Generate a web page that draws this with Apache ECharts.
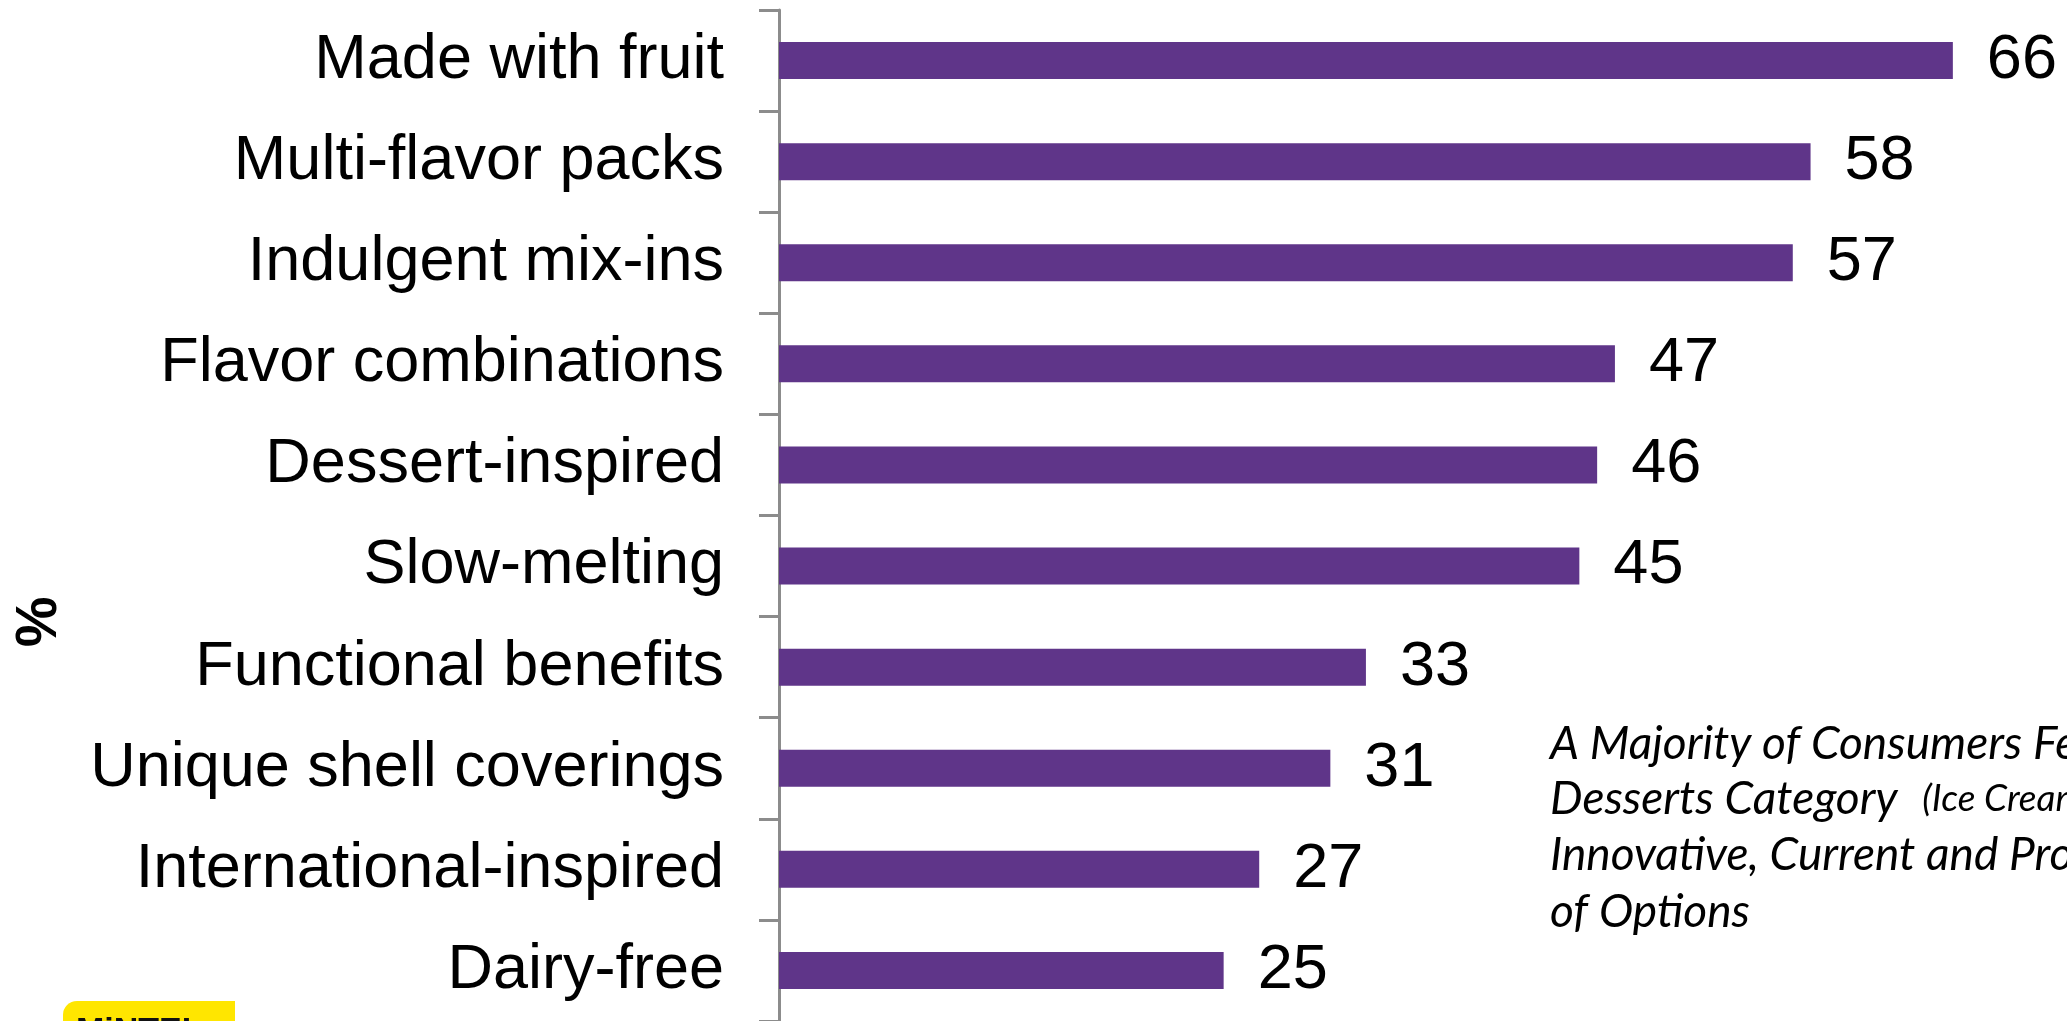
<!DOCTYPE html>
<html>
<head>
<meta charset="utf-8">
<script src="https://cdn.jsdelivr.net/npm/echarts@6/dist/echarts.min.js"></script>
<style>
html,body{margin:0;padding:0;background:#fff;}
#chart{width:2067px;height:1021px;}
</style>
</head>
<body>
<div id="chart"></div>
<script>
const categories = ["Made with fruit","Multi-flavor packs","Indulgent mix-ins","Flavor combinations","Dessert-inspired","Slow-melting","Functional benefits","Unique shell coverings","International-inspired","Dairy-free"];
const values = [66,58,57,47,46,45,33,31,27,25];
const axisUnit = "%";
const noteLines = ["A Majority of Consumers Feel the Frozen", "Desserts Category ", "Innovative, Current and Provides a Variety", "of Options"];
const noteSmall = "(Ice Cream, Frozen Novelties) is";

const chart = echarts.init(document.getElementById('chart'));
const noteFont = 'italic 46px Lato';
chart.setOption({
  animation: false,
  grid: {left: 779, top: 10, width: 1245, height: 1020},
  xAxis: {type: 'value', min: 0, max: 70, show: false},
  yAxis: {
    type: 'category', data: categories, inverse: true,
    axisLine: {show: true, lineStyle: {color: '#8c8c8c', width: 3}},
    axisTick: {show: true, inside: false, length: 20, lineStyle: {color: '#8c8c8c', width: 3}},
    axisLabel: {color: '#000', fontFamily: 'Liberation Sans', fontSize: 63, margin: 55}
  },
  series: [{
    type: 'bar', data: values, barWidth: 37,
    itemStyle: {color: '#5f3589'},
    label: {show: true, position: 'right', distance: 34, color: '#000', fontFamily: 'Liberation Sans', fontSize: 63}
  }],
  graphic: [
    {type: 'text', x: 40, y: 622, rotation: Math.PI/2,
     style: {text: axisUnit, font: 'bold 57px "Liberation Sans"', fill: '#000', align: 'center', verticalAlign: 'middle'}},
    {type: 'text', x: 1550, y: 744, style: {text: noteLines[0], font: noteFont, fill: '#000', verticalAlign: 'middle'}},
    {type: 'text', x: 1550, y: 799, style: {
      text: '{a|' + noteLines[1] + '}{b|' + noteSmall + '}',
      verticalAlign: 'middle', fill: '#000',
      rich: {a: {font: noteFont, fill: '#000'}, b: {font: 'italic 37px Lato', fill: '#000', padding: [0, 0, 0, 14]}}
    }},
    {type: 'text', x: 1550, y: 855, style: {text: noteLines[2], font: noteFont, fill: '#000', verticalAlign: 'middle'}},
    {type: 'text', x: 1550, y: 912, style: {text: noteLines[3], font: noteFont, fill: '#000', verticalAlign: 'middle'}},
    {type: 'rect', shape: {x: 63, y: 1001, width: 172, height: 40, r: [14, 0, 0, 0]}, style: {fill: '#ffe600'}},
    {type: 'text', x: 76, y: 1015, style: {text: 'MiNTEL', font: 'bold 34px "Liberation Sans"', fill: '#111', verticalAlign: 'top'}}
  ]
});
</script>
</body>
</html>
